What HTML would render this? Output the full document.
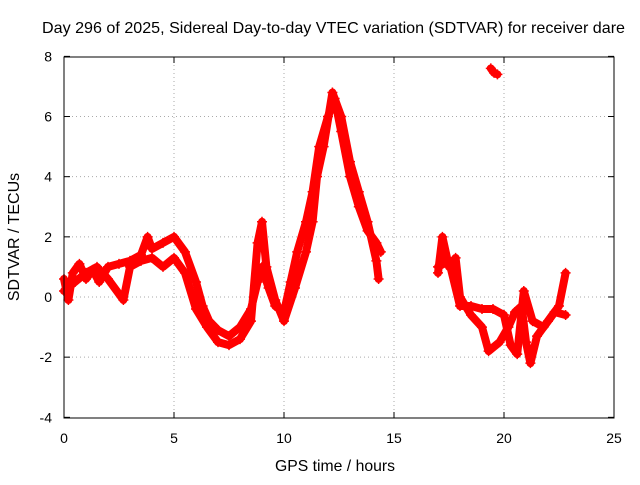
<!DOCTYPE html>
<html><head><meta charset="utf-8"><style>
body{margin:0;background:#fff;}
svg text{font-family:"Liberation Sans",sans-serif;font-size:14px;fill:#000;}
</style></head><body>
<svg width="640" height="480" viewBox="0 0 640 480">
<text x="42" y="33" textLength="583" lengthAdjust="spacingAndGlyphs" style="font-size:16px">Day 296 of 2025, Sidereal Day-to-day VTEC variation (SDTVAR) for receiver dare</text>
<g id="grid"></g>
<g id="axes"></g>
<g id="series"></g>
<rect x="64" y="57" width="550" height="361" fill="none" stroke="#000"/>
<text x="275" y="471" textLength="120" lengthAdjust="spacingAndGlyphs" style="font-size:16px">GPS time / hours</text>
<text transform="translate(19,237) rotate(-90)" text-anchor="middle" style="font-size:16px">SDTVAR / TECUs</text>
</svg>
<script>
const xTicks=[0,5,10,15,20,25];
const yTicks=[-4,-2,0,2,4,6,8];
const trackA_t=[0,0.2,0.4,0.7,1.0,1.3,1.6,2.0,2.5,3.0,3.5,3.8,4.0,4.5,5.0,5.5,6.0,6.3,6.6,7.0,7.5,8.0,8.5,8.8,9.0,9.3,9.6,10.0,10.3,10.6,11.0,11.3,11.6,12.0,12.3,12.6,13.0,13.4,13.8,14.2,14.4];
const trackA_v=[0.6,-0.1,0.8,1.1,0.6,0.9,0.5,1.0,1.1,1.2,1.4,2.0,1.6,1.8,2.0,1.5,0.5,-0.3,-0.8,-1.1,-1.3,-1.0,-0.4,0.5,1.0,0.3,-0.3,-0.5,0.5,1.5,2.5,3.5,5.0,6.0,6.6,5.5,4.0,3.0,2.2,1.8,1.5];
const trackB_t=[0,0.5,1,1.5,2,2.7,3,3.5,4,4.5,5,5.5,6,6.5,7,7.5,8,8.5,8.8,9.0,9.2,9.6,10,10.5,11,11.3,11.5,11.8,12.2,12.6,13,13.4,13.8,14.2,14.3];
const trackB_v=[0.2,0.5,0.8,1.0,0.6,-0.1,1.0,1.2,1.3,1.0,1.3,0.8,-0.4,-1.0,-1.5,-1.6,-1.4,-0.8,1.8,2.5,1.0,-0.1,-0.8,0.3,1.5,2.5,4.0,5.0,6.8,6.0,4.5,3.5,2.5,1.2,0.6];
const trackC_t=[17,17.2,17.5,17.8,18,18.5,19,19.3,19.8,20.2,20.5,20.8,21,21.2,21.5,22,22.5,22.8];
const trackC_v=[0.8,2.0,1.0,1.3,0.0,-0.6,-1.0,-1.8,-1.5,-1.0,-0.5,-0.3,-1.5,-2.2,-1.3,-0.8,-0.3,0.8];
const trackD_t=[17,17.5,18,18.5,19,19.5,20,20.3,20.6,20.9,21.3,21.8,22.3,22.8];
const trackD_v=[1.0,1.2,-0.3,-0.3,-0.4,-0.4,-0.6,-1.6,-1.9,0.2,-0.8,-1.0,-0.5,-0.6];
const trackE_t=[19.4,19.55,19.7];
const trackE_v=[7.6,7.45,7.4];
const X=t=>64+t*22, Y=v=>297-v*30.08;
const NS="http://www.w3.org/2000/svg";
const grid=document.getElementById('grid'),axes=document.getElementById('axes'),ser=document.getElementById('series');
function mk(tag,attrs,parent){const e=document.createElementNS(NS,tag);for(const k in attrs)e.setAttribute(k,attrs[k]);parent.appendChild(e);return e;}
xTicks.forEach(t=>{
 if(t>0&&t<25){const g=mk('line',{x1:X(t),x2:X(t),y1:57,y2:418,stroke:'#aaa','stroke-dasharray':'1,3'},grid);
 
 }
 const l=mk('text',{x:X(t),y:443,'text-anchor':'middle'},axes);l.textContent=t;
 
 
 mk('line',{x1:X(t),x2:X(t),y1:418,y2:412,stroke:'#000'},axes);
 mk('line',{x1:X(t),x2:X(t),y1:57,y2:63,stroke:'#000'},axes);
});
yTicks.forEach(v=>{
 if(v>-4&&v<8){const g=mk('line',{x1:64,x2:614,y1:Y(v),y2:Y(v),stroke:'#aaa','stroke-dasharray':'1,3'},grid);
 
 }
 const l=mk('text',{x:52,y:Y(v)+5,'text-anchor':'end'},axes);l.textContent=v;
 
 
 mk('line',{x1:64,x2:70,y1:Y(v),y2:Y(v),stroke:'#000'},axes);
 mk('line',{x1:608,x2:614,y1:Y(v),y2:Y(v),stroke:'#000'},axes);
});
function track(ts,vs,name){
 const p=mk('polyline',{points:ts.map((t,i)=>X(t)+','+Y(vs[i])).join(' '),fill:'none',stroke:'#f00','stroke-width':8,'stroke-linejoin':'round','stroke-linecap':'round'},ser);
 
 
 ts.forEach((t,i)=>{const x=X(t),y=Y(vs[i]);
  const m=mk('path',{d:`M${x-5},${y}h10M${x},${y-5}v10`,stroke:'#f00','stroke-width':1.5},ser);
  
  });
}
track(trackA_t,trackA_v,'track-a');
track(trackB_t,trackB_v,'track-b');
track(trackC_t,trackC_v,'track-c');
track(trackD_t,trackD_v,'track-d');
track(trackE_t,trackE_v,'track-e');
</script>
</body></html>
